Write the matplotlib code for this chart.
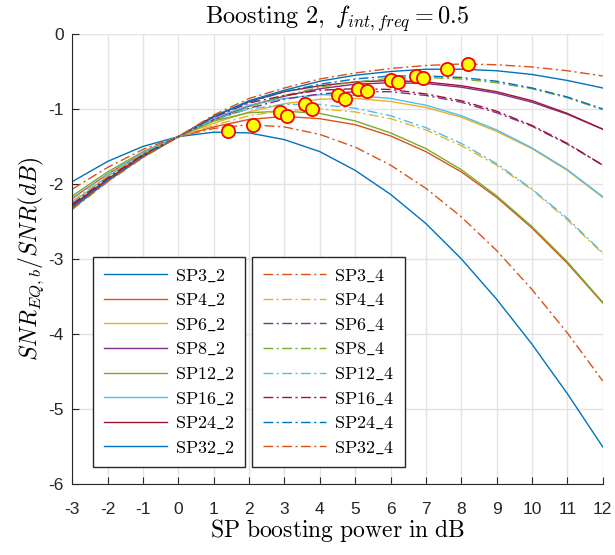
import matplotlib
matplotlib.use("Agg")
import matplotlib.pyplot as plt

# boosting power grid (dB)
boost_db = [-3, -2, -1, 0, 1, 2, 3, 4, 5, 6, 7, 8, 9, 10, 11, 12]

labels_2 = ["SP3_2", "SP4_2", "SP6_2", "SP8_2", "SP12_2", "SP16_2", "SP24_2", "SP32_2"]
labels_4 = ["SP3_4", "SP4_4", "SP6_4", "SP8_4", "SP12_4", "SP16_4", "SP24_4", "SP32_4"]

# SNR_eq/SNR in dB, one row per pilot pattern
curves_2 = [
    [-1.97, -1.70, -1.50, -1.37, -1.31, -1.32, -1.41, -1.57, -1.82, -2.14, -2.53, -3.00, -3.54, -4.14, -4.80, -5.51],
    [-2.19, -1.87, -1.59, -1.37, -1.24, -1.14, -1.10, -1.13, -1.21, -1.36, -1.57, -1.84, -2.18, -2.59, -3.06, -3.59],
    [-2.28, -1.93, -1.62, -1.37, -1.19, -1.04, -0.93, -0.87, -0.86, -0.90, -0.98, -1.11, -1.30, -1.53, -1.82, -2.18],
    [-2.31, -1.96, -1.64, -1.37, -1.14, -0.96, -0.83, -0.73, -0.67, -0.65, -0.66, -0.71, -0.79, -0.91, -1.07, -1.27],
    [-2.16, -1.84, -1.57, -1.37, -1.16, -1.05, -1.03, -1.06, -1.16, -1.32, -1.53, -1.81, -2.16, -2.57, -3.04, -3.58],
    [-2.25, -1.90, -1.60, -1.37, -1.12, -0.95, -0.86, -0.81, -0.82, -0.86, -0.95, -1.09, -1.28, -1.52, -1.81, -2.17],
    [-2.29, -1.94, -1.62, -1.37, -1.10, -0.90, -0.77, -0.69, -0.64, -0.62, -0.64, -0.69, -0.77, -0.89, -1.06, -1.27],
    [-2.33, -1.96, -1.64, -1.37, -1.10, -0.89, -0.75, -0.63, -0.55, -0.50, -0.47, -0.47, -0.49, -0.54, -0.62, -0.72],
]
curves_4 = [
    [-2.07, -1.78, -1.54, -1.37, -1.26, -1.21, -1.24, -1.34, -1.51, -1.75, -2.06, -2.44, -2.89, -3.41, -3.99, -4.63],
    [-2.23, -1.89, -1.60, -1.37, -1.22, -1.09, -1.02, -1.00, -1.04, -1.13, -1.28, -1.49, -1.75, -2.08, -2.48, -2.93],
    [-2.29, -1.94, -1.63, -1.37, -1.15, -0.99, -0.87, -0.80, -0.77, -0.77, -0.82, -0.91, -1.05, -1.23, -1.47, -1.75],
    [-2.34, -1.97, -1.65, -1.37, -1.16, -0.97, -0.82, -0.71, -0.64, -0.59, -0.58, -0.60, -0.65, -0.73, -0.85, -1.01],
    [-2.20, -1.87, -1.58, -1.37, -1.14, -1.00, -0.94, -0.94, -0.99, -1.09, -1.25, -1.46, -1.73, -2.07, -2.46, -2.92],
    [-2.27, -1.92, -1.61, -1.37, -1.11, -0.92, -0.82, -0.75, -0.73, -0.74, -0.80, -0.89, -1.03, -1.22, -1.46, -1.75],
    [-2.31, -1.95, -1.63, -1.37, -1.10, -0.91, -0.77, -0.67, -0.60, -0.56, -0.56, -0.58, -0.63, -0.72, -0.84, -1.00],
    [-2.33, -1.97, -1.64, -1.37, -1.08, -0.86, -0.72, -0.60, -0.52, -0.46, -0.42, -0.40, -0.41, -0.44, -0.49, -0.56],
]

# optimum boosting points
opt_x = [1.41, 2.10, 2.87, 3.08, 3.58, 3.79, 4.52, 4.71, 5.09, 5.33, 6.00, 6.20, 6.71, 6.91, 7.59, 8.20]
opt_y = [-1.30, -1.215, -1.04, -1.09, -0.93, -1.00, -0.81, -0.87, -0.73, -0.76, -0.62, -0.645, -0.557, -0.583, -0.467, -0.405]

colors = ["#0072BD", "#D95319", "#EDB120", "#7E2F8E", "#77AC30", "#4DBEEE", "#A2142F"]

plt.rcParams["mathtext.fontset"] = "cm"
plt.rcParams["axes.unicode_minus"] = False
plt.rcParams["font.family"] = "Liberation Sans"

fig = plt.figure(figsize=(6.15, 5.55), dpi=100)
ax = fig.add_axes([0.1176, 0.1288, 0.8624, 0.8099])

h2 = []
for i, (lab, ys) in enumerate(zip(labels_2, curves_2)):
    line, = ax.plot(boost_db, ys, color=colors[i % 7], lw=1.0,
                    label=r"$\mathrm{%s}$" % lab.replace("_", r"\_"))
    h2.append(line)
h4 = []
for i, (lab, ys) in enumerate(zip(labels_4, curves_4)):
    line, = ax.plot(boost_db, ys, color=colors[(i + 8) % 7], lw=1.0,
                    dashes=(7, 2.5, 1.5, 2.5),
                    label=r"$\mathrm{%s}$" % lab.replace("_", r"\_"))
    h4.append(line)

ax.plot(opt_x, opt_y, "o", ms=9.5, mfc="yellow", mec="red", mew=1.3, zorder=5)

ax.set_xlim(-3, 12)
ax.set_ylim(-6, 0)
ax.set_xticks(range(-3, 13))
ax.set_yticks(range(-6, 1))
ax.grid(True, color="#e3e3e3", lw=1.0)
ax.set_axisbelow(True)
for s in ["top", "right"]:
    ax.spines[s].set_visible(False)
for s in ["left", "bottom"]:
    ax.spines[s].set_color("#262626")
ax.tick_params(direction="in", length=5, colors="#262626", labelsize=12.5)
ax.tick_params(axis="x", pad=13)
ax.tick_params(axis="y", pad=6)

ax.set_xlabel(r"$\mathrm{SP\ boosting\ power\ in\ dB}$", fontsize=17, labelpad=0)
ax.set_ylabel(r"$SNR_{EQ,b}/SNR(dB)$", fontsize=17, labelpad=2)
ax.set_title(r"$\mathrm{Boosting\ 2,}\ f_{int,freq} = 0.5$", fontsize=17.5, pad=3)

leg_kw = dict(loc="upper left", fontsize=13, frameon=True, fancybox=False,
              edgecolor="#262626", framealpha=1.0, handlelength=3.5,
              handletextpad=0.4, labelspacing=0.42, borderpad=0.6, borderaxespad=0)
leg1 = ax.legend(handles=h2, bbox_to_anchor=(0.0396, 0.5046), **leg_kw)
ax.add_artist(leg1)
leg2 = ax.legend(handles=h4, bbox_to_anchor=(0.3394, 0.5046), **leg_kw)
for lg in (leg1, leg2):
    lg.get_frame().set_linewidth(1.0)

fig.savefig("out.png", dpi=100)
